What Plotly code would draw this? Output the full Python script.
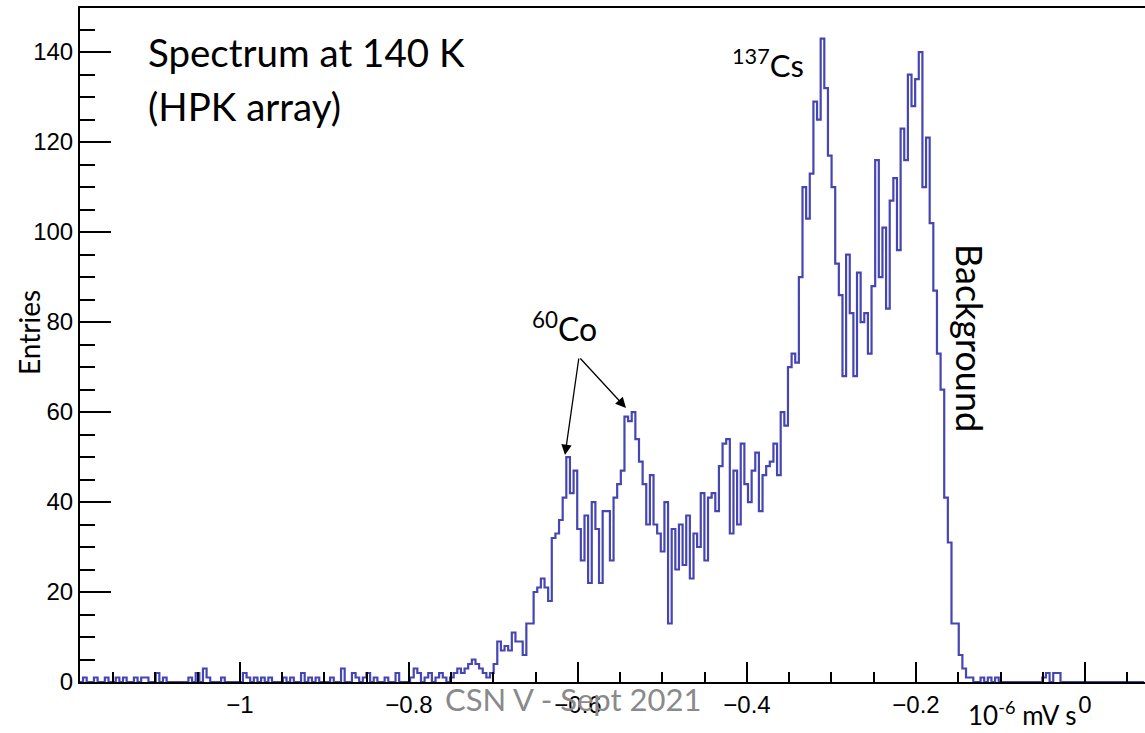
import numpy as np
import plotly.graph_objects as go

# ---------------- data ----------------
bin_start = -1.19
bin_width = 0.0043
counts = [
    0, 1, 0, 0, 1, 0, 0, 1, 0, 0,
    1, 0, 1, 0, 0, 1, 0, 1, 1, 0,
    0, 2, 0, 1, 0, 0, 0, 0, 0, 0,
    1, 0, 2, 0, 3, 1, 0, 0, 0, 1,
    0, 0, 0, 0, 0, 2, 1, 0, 1, 0,
    1, 0, 1, 0, 0, 0, 1, 0, 1, 0,
    0, 2, 0, 1, 0, 1, 0, 0, 0, 1,
    0, 0, 3, 0, 0, 2, 1, 0, 1, 2,
    0, 1, 0, 0, 1, 0, 0, 2, 0, 0,
    0, 1, 3, 2, 0, 1, 2, 0, 1, 2,
    1, 0, 1, 2, 3, 2, 3, 4, 5, 4,
    3, 2, 1, 2, 4, 9, 7, 8, 7, 11,
    9, 9, 6, 13, 13, 20, 21, 23, 21, 18,
    32, 33, 36, 41, 50, 42, 47, 34, 27, 37,
    22, 40, 34, 22, 38, 38, 27, 41, 44, 47,
    59, 58, 60, 54, 49, 44, 35, 46, 35, 33,
    29, 40, 13, 34, 25, 35, 26, 37, 23, 33,
    30, 42, 27, 41, 42, 38, 48, 53, 54, 33,
    47, 35, 53, 44, 40, 47, 51, 38, 46, 48,
    49, 53, 46, 60, 57, 70, 73, 71, 90, 110,
    103, 113, 129, 125, 143, 132, 117, 110, 93, 86,
    68, 95, 82, 68, 91, 80, 82, 73, 88, 116,
    90, 101, 83, 107, 112, 96, 123, 116, 135, 128,
    134, 140, 110, 121, 102, 87, 73, 65, 41, 31,
    13, 13, 6, 3, 1, 1, 0, 0, 1, 0,
    1, 0, 1, 0, 0, 0, 0, 0, 0, 0,
    0, 0, 0, 0, 0, 1, 2, 0, 2, 2,
    0, 0, 0, 0, 0, 0, 0, 0, 0, 0,
    0, 0, 0, 0, 0, 0, 0, 0, 0, 0,
    0, 0, 0,
]
x_range = [-1.1893, 0.071]
y_range = [0, 149.8]
x_major = 0.2
x_minor = 0.05
y_major = 20
y_minor = 5

# ---------------- figure ----------------
W, H = 1145, 733
L, R, T, B = 80, 0, 8, 51

edges = bin_start + bin_width * np.arange(len(counts) + 1)
yy = list(counts) + [counts[-1]]

fig = go.Figure()
fig.add_trace(go.Scatter(
    x=edges, y=yy, mode="lines",
    line=dict(shape="hv", color="#4646b2", width=2.2),
    hoverinfo="skip", showlegend=False,
))

def px(x):
    return (x - L) / (W - L - R)

def py(y):
    return (H - B - y) / (H - B - T)

calib = "Lato"
ann = []

def text(s, x, y, size, xanchor="left", yanchor="middle", angle=0, color="black", fam=calib):
    ann.append(dict(text=s, x=px(x), y=py(y), xref="paper", yref="paper",
                    xanchor=xanchor, yanchor=yanchor, showarrow=False,
                    textangle=angle, font=dict(family=fam, size=size, color=color)))

text("Spectrum at 140 K", 146, 52, 38.5)
text("(HPK array)", 146, 106, 38.5)
text("<sup>137</sup>Cs", 806, 64, 31, xanchor="right")
text("<sup>60</sup>Co", 530, 327, 32)
text("Background", 970, 338, 36, xanchor="center", angle=90)
text("CSN V - Sept 2021", 573, 699, 31, xanchor="center", color="#8a8a8a")
text("10<sup>-6</sup> mV s", 966, 713, 26)
text("Entries", 29, 333, 28, xanchor="center", angle=-90)

# arrows for 60Co
tail = (579, 357)
for tip in [(565, 455), (626, 408)]:
    ann.append(dict(text="", x=px(tip[0]), y=py(tip[1]), xref="paper", yref="paper",
                    showarrow=True, arrowhead=2, arrowsize=1.6, arrowwidth=1.3,
                    arrowcolor="black", ax=tail[0] - tip[0], ay=tail[1] - tip[1]))

tickfont = dict(family="Liberation Sans", size=24, color="black")

fig.update_layout(
    width=W, height=H,
    margin=dict(l=L, r=R, t=T, b=B, pad=0),
    paper_bgcolor="white", plot_bgcolor="white",
    annotations=ann,
    xaxis=dict(
        range=x_range, showgrid=False, zeroline=False,
        showline=True, linecolor="black", linewidth=2, mirror=True,
        ticks="inside", ticklen=20, tickwidth=2, tickcolor="black",
        tickmode="linear", tick0=0, dtick=x_major,
        minor=dict(ticks="inside", ticklen=10, tickwidth=2, tickcolor="black",
                   tick0=0, dtick=x_minor, showgrid=False),
        tickfont=tickfont, automargin=False,
    ),
    yaxis=dict(
        range=y_range, showgrid=False, zeroline=False,
        showline=True, linecolor="black", linewidth=2, mirror=False,
        ticks="inside", ticklen=31, tickwidth=2, tickcolor="black",
        tickmode="linear", tick0=0, dtick=y_major,
        minor=dict(ticks="inside", ticklen=15, tickwidth=2, tickcolor="black",
                   tick0=0, dtick=y_minor, showgrid=False),
        tickfont=tickfont, automargin=False,
    ),
)

fig.write_html("out.html")
